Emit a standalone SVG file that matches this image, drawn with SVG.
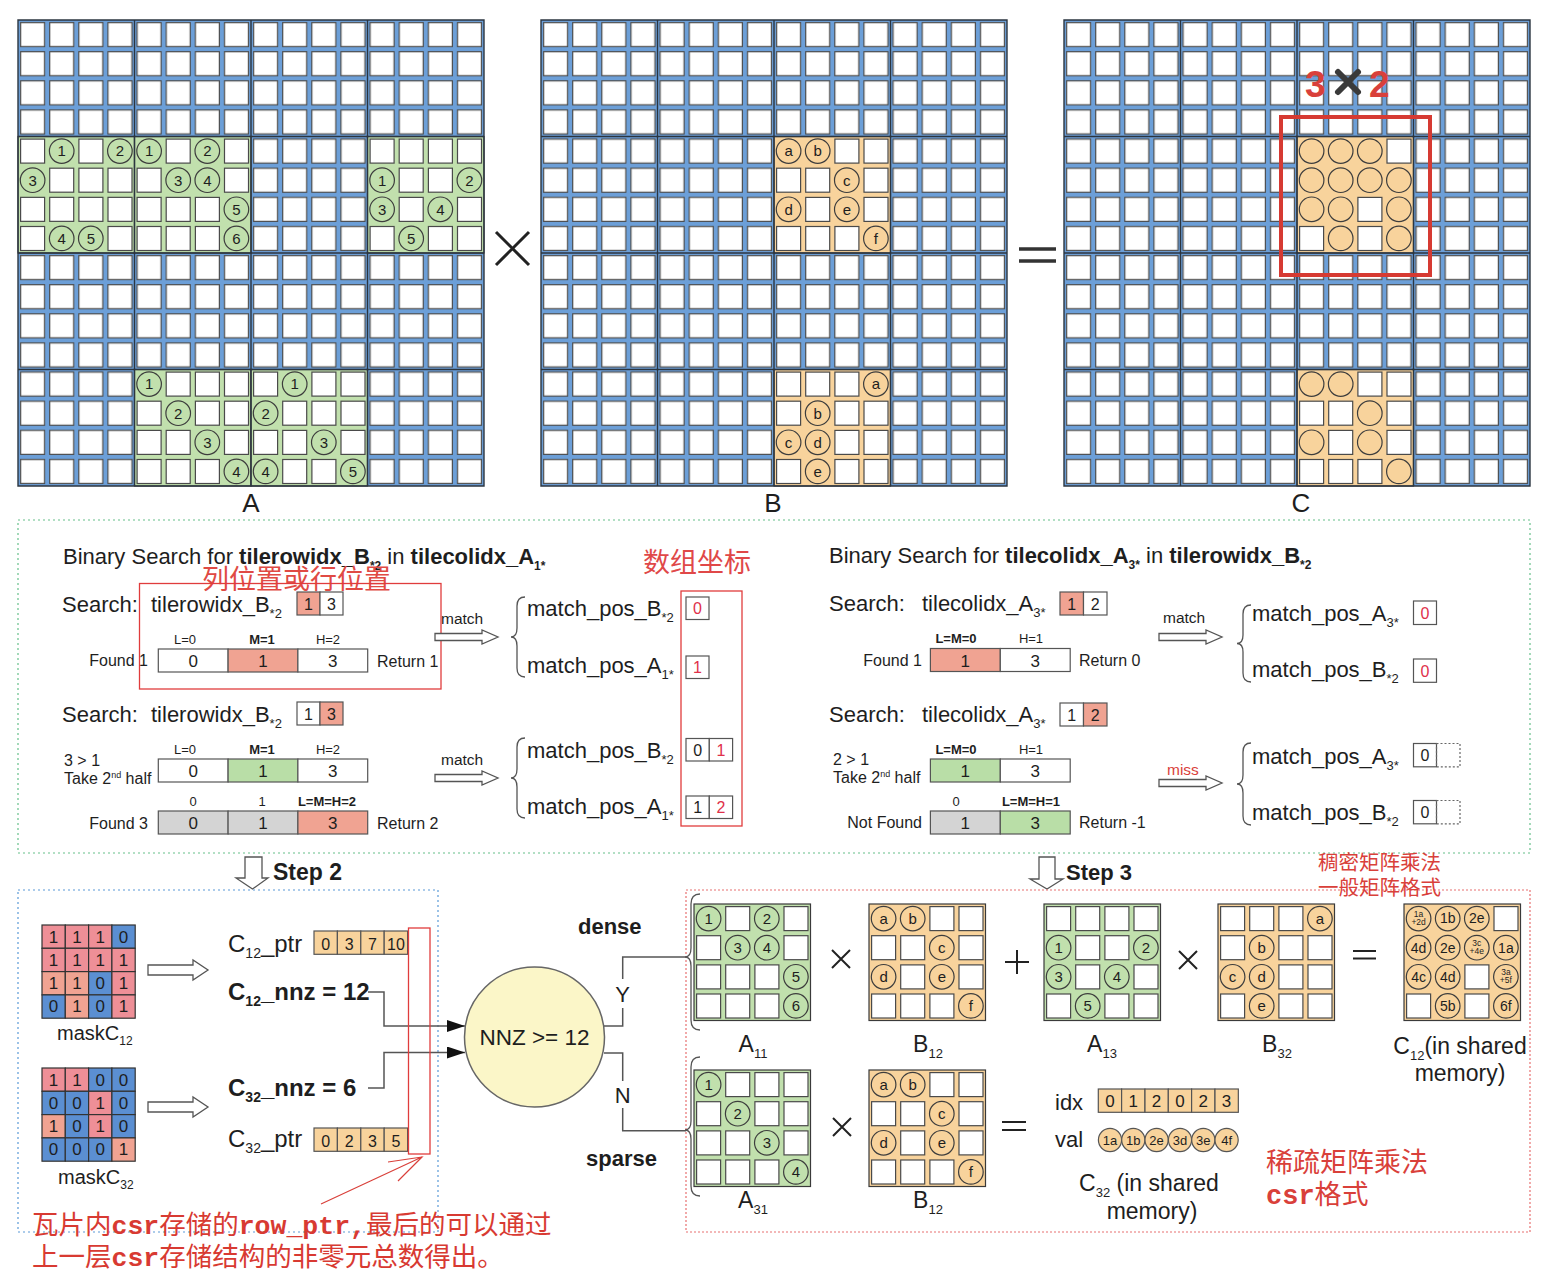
<svg xmlns="http://www.w3.org/2000/svg" xmlns:xlink="http://www.w3.org/1999/xlink" width="1548" height="1284" viewBox="0 0 1548 1284">
<style>
text{font-family:"Liberation Sans",Arial,"Noto Sans CJK SC",sans-serif;fill:#1e1e1e}
.sq{fill:#fff;stroke:#4a4a4a;stroke-width:1.2}
.ct{font-size:15px;text-anchor:middle}
.tl{fill:none;stroke:#2c3640;stroke-width:1.4}
.cell{stroke:#555;stroke-width:1.2}
.mk{stroke:#333;stroke-width:1.2}
.w{fill:#fff}.sal{fill:#f0a392}.grn{fill:#b9dea7}.gry{fill:#d4d4d4}.org{fill:#f8d39c}
.pk{fill:#ee8f97}.bl{fill:#5b8fd2}
.mid{text-anchor:middle}
.end{text-anchor:end}
.red{fill:#d9403a}
.rn{fill:#e0304a}
.cjk{font-family:"Noto Sans CJK SC",sans-serif}
.mono{font-family:"Liberation Mono","Noto Sans CJK SC",monospace;font-weight:bold}
.hol{fill:#fff;stroke:#555;stroke-width:1.3}
.br{fill:none;stroke:#555;stroke-width:1.3}
.ln{fill:none;stroke:#555;stroke-width:1.5}
.op{stroke:#222;stroke-width:2;fill:none}
.rb{fill:none;stroke:#e03c3c;stroke-width:1.3}
</style>
<defs>
<rect id="s" width="24" height="24" class="sq"/>
<circle id="c" r="12.3" stroke="#3d3d3d" stroke-width="1.2"/>
<g id="r4"><use href="#s" x="2.6" y="2.6"/><use href="#s" x="31.7" y="2.6"/><use href="#s" x="60.9" y="2.6"/><use href="#s" x="90" y="2.6"/></g>
<pattern id="pb" width="29.125" height="29.125" patternUnits="userSpaceOnUse"><rect width="29.125" height="29.125" fill="#6c9fd8"/><rect x="2.6" y="2.6" width="24" height="24" fill="#fff" stroke="#4d4d4d" stroke-width="1.2"/></pattern>
<marker id="ah" markerWidth="18" markerHeight="12" refX="18" refY="6" orient="auto" markerUnits="userSpaceOnUse"><path d="M0,0L18,6L0,12Z" fill="#111"/></marker>

<g id="tA10" fill="#c1e0ad">
<rect width="116.5" height="116.5" stroke="#3a3a3a" stroke-width="1.2"/>
<use href="#s" x="2.6" y="2.6"/><use href="#c" x="43.7" y="14.6"/><text class="ct" x="43.7" y="19.9">1</text><use href="#s" x="60.9" y="2.6"/><use href="#c" x="101.9" y="14.6"/><text class="ct" x="101.9" y="19.9">2</text>
<use href="#c" x="14.6" y="43.7"/><text class="ct" x="14.6" y="49">3</text><use href="#s" x="31.7" y="31.7"/><use href="#s" x="60.9" y="31.7"/><use href="#s" x="90" y="31.7"/>
<use href="#r4" y="58.25"/>
<use href="#s" x="2.6" y="90"/><use href="#c" x="43.7" y="101.9"/><text class="ct" x="43.7" y="107.2">4</text><use href="#c" x="72.8" y="101.9"/><text class="ct" x="72.8" y="107.2">5</text><use href="#s" x="90" y="90"/>
</g>
<g id="tA11" fill="#c1e0ad">
<rect width="116.5" height="116.5" stroke="#3a3a3a" stroke-width="1.2"/>
<use href="#c" x="14.6" y="14.6"/><text class="ct" x="14.6" y="19.9">1</text><use href="#s" x="31.7" y="2.6"/><use href="#c" x="72.8" y="14.6"/><text class="ct" x="72.8" y="19.9">2</text><use href="#s" x="90" y="2.6"/>
<use href="#s" x="2.6" y="31.7"/><use href="#c" x="43.7" y="43.7"/><text class="ct" x="43.7" y="49">3</text><use href="#c" x="72.8" y="43.7"/><text class="ct" x="72.8" y="49">4</text><use href="#s" x="90" y="31.7"/>
<use href="#s" x="2.6" y="60.9"/><use href="#s" x="31.7" y="60.9"/><use href="#s" x="60.9" y="60.9"/><use href="#c" x="101.9" y="72.8"/><text class="ct" x="101.9" y="78.1">5</text>
<use href="#s" x="2.6" y="90"/><use href="#s" x="31.7" y="90"/><use href="#s" x="60.9" y="90"/><use href="#c" x="101.9" y="101.9"/><text class="ct" x="101.9" y="107.2">6</text>
</g>
<g id="tA13" fill="#c1e0ad">
<rect width="116.5" height="116.5" stroke="#3a3a3a" stroke-width="1.2"/>
<use href="#r4"/>
<use href="#c" x="14.6" y="43.7"/><text class="ct" x="14.6" y="49">1</text><use href="#s" x="31.7" y="31.7"/><use href="#s" x="60.9" y="31.7"/><use href="#c" x="101.9" y="43.7"/><text class="ct" x="101.9" y="49">2</text>
<use href="#c" x="14.6" y="72.8"/><text class="ct" x="14.6" y="78.1">3</text><use href="#s" x="31.7" y="60.9"/><use href="#c" x="72.8" y="72.8"/><text class="ct" x="72.8" y="78.1">4</text><use href="#s" x="90" y="60.9"/>
<use href="#s" x="2.6" y="90"/><use href="#c" x="43.7" y="101.9"/><text class="ct" x="43.7" y="107.2">5</text><use href="#s" x="60.9" y="90"/><use href="#s" x="90" y="90"/>
</g>
<g id="tA31" fill="#c1e0ad">
<rect width="116.5" height="116.5" stroke="#3a3a3a" stroke-width="1.2"/>
<use href="#c" x="14.6" y="14.6"/><text class="ct" x="14.6" y="19.9">1</text><use href="#s" x="31.7" y="2.6"/><use href="#s" x="60.9" y="2.6"/><use href="#s" x="90" y="2.6"/>
<use href="#s" x="2.6" y="31.7"/><use href="#c" x="43.7" y="43.7"/><text class="ct" x="43.7" y="49">2</text><use href="#s" x="60.9" y="31.7"/><use href="#s" x="90" y="31.7"/>
<use href="#s" x="2.6" y="60.9"/><use href="#s" x="31.7" y="60.9"/><use href="#c" x="72.8" y="72.8"/><text class="ct" x="72.8" y="78.1">3</text><use href="#s" x="90" y="60.9"/>
<use href="#s" x="2.6" y="90"/><use href="#s" x="31.7" y="90"/><use href="#s" x="60.9" y="90"/><use href="#c" x="101.9" y="101.9"/><text class="ct" x="101.9" y="107.2">4</text>
</g>
<g id="tA32" fill="#c1e0ad">
<rect width="116.5" height="116.5" stroke="#3a3a3a" stroke-width="1.2"/>
<use href="#s" x="2.6" y="2.6"/><use href="#c" x="43.7" y="14.6"/><text class="ct" x="43.7" y="19.9">1</text><use href="#s" x="60.9" y="2.6"/><use href="#s" x="90" y="2.6"/>
<use href="#c" x="14.6" y="43.7"/><text class="ct" x="14.6" y="49">2</text><use href="#s" x="31.7" y="31.7"/><use href="#s" x="60.9" y="31.7"/><use href="#s" x="90" y="31.7"/>
<use href="#s" x="2.6" y="60.9"/><use href="#s" x="31.7" y="60.9"/><use href="#c" x="72.8" y="72.8"/><text class="ct" x="72.8" y="78.1">3</text><use href="#s" x="90" y="60.9"/>
<use href="#c" x="14.6" y="101.9"/><text class="ct" x="14.6" y="107.2">4</text><use href="#s" x="31.7" y="90"/><use href="#s" x="60.9" y="90"/><use href="#c" x="101.9" y="101.9"/><text class="ct" x="101.9" y="107.2">5</text>
</g>
<g id="tB12" fill="#f8d39c">
<rect width="116.5" height="116.5" stroke="#3a3a3a" stroke-width="1.2"/>
<use href="#c" x="14.6" y="14.6"/><text class="ct" x="14.6" y="19.9">a</text><use href="#c" x="43.7" y="14.6"/><text class="ct" x="43.7" y="19.9">b</text><use href="#s" x="60.9" y="2.6"/><use href="#s" x="90" y="2.6"/>
<use href="#s" x="2.6" y="31.7"/><use href="#s" x="31.7" y="31.7"/><use href="#c" x="72.8" y="43.7"/><text class="ct" x="72.8" y="49">c</text><use href="#s" x="90" y="31.7"/>
<use href="#c" x="14.6" y="72.8"/><text class="ct" x="14.6" y="78.1">d</text><use href="#s" x="31.7" y="60.9"/><use href="#c" x="72.8" y="72.8"/><text class="ct" x="72.8" y="78.1">e</text><use href="#s" x="90" y="60.9"/>
<use href="#s" x="2.6" y="90"/><use href="#s" x="31.7" y="90"/><use href="#s" x="60.9" y="90"/><use href="#c" x="101.9" y="101.9"/><text class="ct" x="101.9" y="107.2">f</text>
</g>
<g id="tB32" fill="#f8d39c">
<rect width="116.5" height="116.5" stroke="#3a3a3a" stroke-width="1.2"/>
<use href="#s" x="2.6" y="2.6"/><use href="#s" x="31.7" y="2.6"/><use href="#s" x="60.9" y="2.6"/><use href="#c" x="101.9" y="14.6"/><text class="ct" x="101.9" y="19.9">a</text>
<use href="#s" x="2.6" y="31.7"/><use href="#c" x="43.7" y="43.7"/><text class="ct" x="43.7" y="49">b</text><use href="#s" x="60.9" y="31.7"/><use href="#s" x="90" y="31.7"/>
<use href="#c" x="14.6" y="72.8"/><text class="ct" x="14.6" y="78.1">c</text><use href="#c" x="43.7" y="72.8"/><text class="ct" x="43.7" y="78.1">d</text><use href="#s" x="60.9" y="60.9"/><use href="#s" x="90" y="60.9"/>
<use href="#s" x="2.6" y="90"/><use href="#c" x="43.7" y="101.9"/><text class="ct" x="43.7" y="107.2">e</text><use href="#s" x="60.9" y="90"/><use href="#s" x="90" y="90"/>
</g>
<g id="tC12" fill="#f8d39c">
<rect width="116.5" height="116.5" stroke="#3a3a3a" stroke-width="1.2"/>
<use href="#c" x="14.6" y="14.6"/><use href="#c" x="43.7" y="14.6"/><use href="#c" x="72.8" y="14.6"/><use href="#s" x="90" y="2.6"/>
<use href="#c" x="14.6" y="43.7"/><use href="#c" x="43.7" y="43.7"/><use href="#c" x="72.8" y="43.7"/><use href="#c" x="101.9" y="43.7"/>
<use href="#c" x="14.6" y="72.8"/><use href="#c" x="43.7" y="72.8"/><use href="#s" x="60.9" y="60.9"/><use href="#c" x="101.9" y="72.8"/>
<use href="#s" x="2.6" y="90"/><use href="#c" x="43.7" y="101.9"/><use href="#s" x="60.9" y="90"/><use href="#c" x="101.9" y="101.9"/>
</g>
<g id="tC32" fill="#f8d39c">
<rect width="116.5" height="116.5" stroke="#3a3a3a" stroke-width="1.2"/>
<use href="#c" x="14.6" y="14.6"/><use href="#c" x="43.7" y="14.6"/><use href="#s" x="60.9" y="2.6"/><use href="#s" x="90" y="2.6"/>
<use href="#s" x="2.6" y="31.7"/><use href="#s" x="31.7" y="31.7"/><use href="#c" x="72.8" y="43.7"/><use href="#s" x="90" y="31.7"/>
<use href="#c" x="14.6" y="72.8"/><use href="#s" x="31.7" y="60.9"/><use href="#c" x="72.8" y="72.8"/><use href="#s" x="90" y="60.9"/>
<use href="#s" x="2.6" y="90"/><use href="#s" x="31.7" y="90"/><use href="#s" x="60.9" y="90"/><use href="#c" x="101.9" y="101.9"/>
</g>
<path id="tgrid" d="M0,0H466V466H0Z M116.5,0V466 M233,0V466 M349.5,0V466 M0,116.5H466 M0,233H466 M0,349.5H466"/>
</defs>

<rect width="1548" height="1284" fill="#fff"/>

<!-- Top matrices -->
<g id="matrix-A" transform="translate(18,20)">
<rect width="466" height="466" fill="url(#pb)"/>
<use href="#tA10" x="0" y="116.5"/>
<use href="#tA11" x="116.5" y="116.5"/>
<use href="#tA13" x="349.5" y="116.5"/>
<use href="#tA31" x="116.5" y="349.5"/>
<use href="#tA32" x="233" y="349.5"/>
<use href="#tgrid" class="tl"/>
</g>
<g id="matrix-B" transform="translate(541,20)">
<rect width="466" height="466" fill="url(#pb)"/>
<use href="#tB12" x="233" y="116.5"/>
<use href="#tB32" x="233" y="349.5"/>
<use href="#tgrid" class="tl"/>
</g>
<g id="matrix-C" transform="translate(1064,20)">
<rect width="466" height="466" fill="url(#pb)"/>
<use href="#tC12" x="233" y="116.5"/>
<use href="#tC32" x="233" y="349.5"/>
<use href="#tgrid" class="tl"/>
</g>
<g id="labels-top">
<text x="251" y="512" font-size="26" class="mid">A</text>
<text x="773" y="512" font-size="26" class="mid">B</text>
<text x="1301" y="512" font-size="26" class="mid">C</text>
<path d="M496,232L529,265M529,232L496,265" stroke="#222" stroke-width="3"/>
<path d="M1019,249H1056M1019,261H1056" stroke="#333" stroke-width="3.5"/>
</g>
<g id="highlight-3x2">
<rect x="1281" y="117" width="149" height="158" fill="none" stroke="#d63a32" stroke-width="4"/>
<text x="1305" y="97" font-size="37" font-weight="bold" class="red">3</text>
<path d="M1338,72L1358,92M1358,72L1338,92" stroke="#3a3a3a" stroke-width="6" stroke-linecap="round"/>
<text x="1369" y="97" font-size="37" font-weight="bold" class="red">2</text>
</g>

<!-- Middle section -->
<rect id="box-step1" x="18" y="520" width="1512" height="333" fill="none" stroke="#66c08a" stroke-width="1.2" stroke-dasharray="2 3"/>

<g id="search-left">
<text x="63" y="564" font-size="22">Binary Search for <tspan font-weight="bold">tilerowidx_B<tspan font-size="12" dy="6">*2</tspan></tspan><tspan dy="-6"> in </tspan><tspan font-weight="bold">tilecolidx_A<tspan font-size="12" dy="6">1*</tspan></tspan></text>
<text x="202" y="589" font-size="27" class="cjk" fill="#e04a44" style="fill:#e04a44">列位置或行位置</text>
<rect class="rb" x="139.5" y="583.5" width="301.5" height="105.5"/>
<text x="62" y="612" font-size="22">Search:</text>
<text x="151" y="612" font-size="22">tilerowidx_B<tspan font-size="13" dy="6">*2</tspan></text>
<rect class="cell sal" x="297" y="592" width="23" height="23"/><rect class="cell w" x="320" y="592" width="23" height="23"/>
<text class="mid" font-size="16" x="308.5" y="609.5">1</text><text class="mid" font-size="16" x="331.5" y="609.5">3</text>
<text class="mid" font-size="13" x="185" y="644">L=0</text><text class="mid" font-size="13" x="262" y="644" font-weight="bold">M=1</text><text class="mid" font-size="13" x="328" y="644">H=2</text>
<rect class="cell w" x="158.3" y="649" width="69.8" height="23"/><rect class="cell sal" x="228.1" y="649" width="69.8" height="23"/><rect class="cell w" x="297.9" y="649" width="69.8" height="23"/>
<text class="mid" font-size="17" x="193.2" y="667">0</text><text class="mid" font-size="17" x="263" y="667">1</text><text class="mid" font-size="17" x="332.8" y="667">3</text>
<text x="148" y="666" font-size="16" class="end">Found 1</text>
<text x="377" y="667" font-size="16">Return 1</text>

<text x="62" y="722" font-size="22">Search:</text>
<text x="151" y="722" font-size="22">tilerowidx_B<tspan font-size="13" dy="6">*2</tspan></text>
<rect class="cell w" x="297" y="702" width="23" height="23"/><rect class="cell sal" x="320" y="702" width="23" height="23"/>
<text class="mid" font-size="16" x="308.5" y="719.5">1</text><text class="mid" font-size="16" x="331.5" y="719.5">3</text>
<text x="64" y="766" font-size="16">3 &gt; 1</text>
<text x="64" y="784" font-size="16">Take 2<tspan font-size="9" dy="-6">nd</tspan><tspan dy="6"> half</tspan></text>
<text class="mid" font-size="13" x="185" y="754">L=0</text><text class="mid" font-size="13" x="262" y="754" font-weight="bold">M=1</text><text class="mid" font-size="13" x="328" y="754">H=2</text>
<rect class="cell w" x="158.3" y="759" width="69.8" height="23"/><rect class="cell grn" x="228.1" y="759" width="69.8" height="23"/><rect class="cell w" x="297.9" y="759" width="69.8" height="23"/>
<text class="mid" font-size="17" x="193.2" y="777">0</text><text class="mid" font-size="17" x="263" y="777">1</text><text class="mid" font-size="17" x="332.8" y="777">3</text>
<text class="mid" font-size="13" x="193" y="806">0</text><text class="mid" font-size="13" x="262" y="806">1</text><text class="mid" font-size="13" x="327" y="806" font-weight="bold">L=M=H=2</text>
<rect class="cell gry" x="158.3" y="811" width="69.8" height="23"/><rect class="cell gry" x="228.1" y="811" width="69.8" height="23"/><rect class="cell sal" x="297.9" y="811" width="69.8" height="23"/>
<text class="mid" font-size="17" x="193.2" y="829">0</text><text class="mid" font-size="17" x="263" y="829">1</text><text class="mid" font-size="17" x="332.8" y="829">3</text>
<text x="148" y="829" font-size="16" class="end">Found 3</text>
<text x="377" y="829" font-size="16">Return 2</text>
</g>

<g id="match-left">
<text x="441" y="624" font-size="15.5">match</text>
<path class="hol" d="M435,633.5H482V630L498,637L482,644V640.5H435Z"/>
<path class="br" d="M525,597Q517,597 517,606V628Q517,637 511,637Q517,637 517,646V668Q517,677 525,677"/>
<text x="527" y="616" font-size="22">match_pos_B<tspan font-size="13" dy="6">*2</tspan></text>
<rect class="cell w" x="686" y="597" width="23" height="22.5"/><text class="mid rn" font-size="16" x="697.5" y="614">0</text>
<text x="527" y="673" font-size="22">match_pos_A<tspan font-size="13" dy="6">1*</tspan></text>
<rect class="cell w" x="686" y="656" width="23" height="22.5"/><text class="mid rn" font-size="16" x="697.5" y="673">1</text>

<text x="441" y="765" font-size="15.5">match</text>
<path class="hol" d="M435,774.5H482V771L498,778L482,785V781.5H435Z"/>
<path class="br" d="M525,738Q517,738 517,747V769Q517,778 511,778Q517,778 517,787V809Q517,818 525,818"/>
<text x="527" y="758" font-size="22">match_pos_B<tspan font-size="13" dy="6">*2</tspan></text>
<rect class="cell w" x="686" y="738.5" width="23.3" height="22.5"/><rect class="cell w" x="709.3" y="738.5" width="23.3" height="22.5"/>
<text class="mid" font-size="16" x="697.7" y="755.5">0</text><text class="mid rn" font-size="16" x="721" y="755.5">1</text>
<text x="527" y="814" font-size="22">match_pos_A<tspan font-size="13" dy="6">1*</tspan></text>
<rect class="cell w" x="686" y="796" width="23.3" height="22.5"/><rect class="cell w" x="709.3" y="796" width="23.3" height="22.5"/>
<text class="mid" font-size="16" x="697.7" y="813">1</text><text class="mid rn" font-size="16" x="721" y="813">2</text>
<rect class="rb" x="681" y="591" width="61" height="235"/>
<text x="643" y="572" font-size="27" class="cjk" style="fill:#e04848">数组坐标</text>
</g>

<g id="search-right">
<text x="829" y="563" font-size="22">Binary Search for <tspan font-weight="bold">tilecolidx_A<tspan font-size="12" dy="6">3*</tspan></tspan><tspan dy="-6"> in </tspan><tspan font-weight="bold">tilerowidx_B<tspan font-size="12" dy="6">*2</tspan></tspan></text>
<text x="829" y="611" font-size="22">Search:</text>
<text x="922" y="611" font-size="22">tilecolidx_A<tspan font-size="13" dy="6">3*</tspan></text>
<rect class="cell sal" x="1060" y="592" width="23.5" height="23"/><rect class="cell w" x="1083.5" y="592" width="23.5" height="23"/>
<text class="mid" font-size="16" x="1071.7" y="609.5">1</text><text class="mid" font-size="16" x="1095.2" y="609.5">2</text>
<text class="mid" font-size="13" x="956" y="643" font-weight="bold">L=M=0</text><text class="mid" font-size="13" x="1031" y="643">H=1</text>
<rect class="cell sal" x="930.4" y="648.5" width="69.9" height="23"/><rect class="cell w" x="1000.3" y="648.5" width="69.9" height="23"/>
<text class="mid" font-size="17" x="965.3" y="666.5">1</text><text class="mid" font-size="17" x="1035.2" y="666.5">3</text>
<text x="922" y="666" font-size="16" class="end">Found 1</text>
<text x="1079" y="666" font-size="16">Return 0</text>

<text x="829" y="722" font-size="22">Search:</text>
<text x="922" y="722" font-size="22">tilecolidx_A<tspan font-size="13" dy="6">3*</tspan></text>
<rect class="cell w" x="1060" y="703" width="23.5" height="23"/><rect class="cell sal" x="1083.5" y="703" width="23.5" height="23"/>
<text class="mid" font-size="16" x="1071.7" y="720.5">1</text><text class="mid" font-size="16" x="1095.2" y="720.5">2</text>
<text x="833" y="765" font-size="16">2 &gt; 1</text>
<text x="833" y="783" font-size="16">Take 2<tspan font-size="9" dy="-6">nd</tspan><tspan dy="6"> half</tspan></text>
<text class="mid" font-size="13" x="956" y="754" font-weight="bold">L=M=0</text><text class="mid" font-size="13" x="1031" y="754">H=1</text>
<rect class="cell grn" x="930.4" y="759" width="69.9" height="23"/><rect class="cell w" x="1000.3" y="759" width="69.9" height="23"/>
<text class="mid" font-size="17" x="965.3" y="777">1</text><text class="mid" font-size="17" x="1035.2" y="777">3</text>
<text class="mid" font-size="13" x="956" y="806">0</text><text class="mid" font-size="13" x="1031" y="806" font-weight="bold">L=M=H=1</text>
<rect class="cell gry" x="930.4" y="811" width="69.9" height="23"/><rect class="cell grn" x="1000.3" y="811" width="69.9" height="23"/>
<text class="mid" font-size="17" x="965.3" y="829">1</text><text class="mid" font-size="17" x="1035.2" y="829">3</text>
<text x="922" y="828" font-size="16" class="end">Not Found</text>
<text x="1079" y="828" font-size="16">Return -1</text>
</g>

<g id="match-right">
<text x="1163" y="623" font-size="15.5">match</text>
<path class="hol" d="M1159,633.5H1206V630L1222,637L1206,644V640.5H1159Z"/>
<path class="br" d="M1251,605Q1243,605 1243,614V635Q1243,643.5 1237,643.5Q1243,643.5 1243,652V673Q1243,682 1251,682"/>
<text x="1252" y="621" font-size="22">match_pos_A<tspan font-size="13" dy="6">3*</tspan></text>
<rect class="cell w" x="1413.5" y="601" width="23" height="23.5"/><text class="mid rn" font-size="16" x="1425" y="618.5">0</text>
<text x="1252" y="677" font-size="22">match_pos_B<tspan font-size="13" dy="6">*2</tspan></text>
<rect class="cell w" x="1413.5" y="659" width="23" height="23.3"/><text class="mid rn" font-size="16" x="1425" y="676.5">0</text>

<text x="1167" y="775" font-size="15.5" class="red">miss</text>
<path class="hol" d="M1159,779.5H1206V776L1222,783L1206,790V786.5H1159Z"/>
<path class="br" d="M1251,743Q1243,743 1243,752V775Q1243,784 1237,784Q1243,784 1243,793V816Q1243,825 1251,825"/>
<text x="1252" y="764" font-size="22">match_pos_A<tspan font-size="13" dy="6">3*</tspan></text>
<rect class="cell w" x="1413.5" y="743.5" width="23" height="23.3"/><rect x="1436.5" y="743.5" width="23.5" height="23.3" fill="none" stroke="#666" stroke-width="1.2" stroke-dasharray="2 2"/>
<text class="mid" font-size="16" x="1425" y="760.5">0</text>
<text x="1252" y="820" font-size="22">match_pos_B<tspan font-size="13" dy="6">*2</tspan></text>
<rect class="cell w" x="1413.5" y="800.5" width="23" height="23.3"/><rect x="1436.5" y="800.5" width="23.5" height="23.3" fill="none" stroke="#666" stroke-width="1.2" stroke-dasharray="2 2"/>
<text class="mid" font-size="16" x="1425" y="817.5">0</text>
</g>

<!-- Step 2 -->
<g id="step2-label">
<path class="hol" d="M245,857H262V878H268L252.5,889L236,878H245Z"/>
<text x="273" y="880" font-size="23" font-weight="bold">Step 2</text>
</g>
<rect id="box-step2" x="18" y="890" width="420" height="342" fill="none" stroke="#5a9ad8" stroke-width="1.2" stroke-dasharray="2 3"/>

<g id="maskC12">
<rect class="mk pk" x="42" y="925" width="23.3" height="23.3"/><rect class="mk pk" x="65.3" y="925" width="23.3" height="23.3"/><rect class="mk pk" x="88.6" y="925" width="23.3" height="23.3"/><rect class="mk bl" x="111.9" y="925" width="23.3" height="23.3"/>
<rect class="mk pk" x="42" y="948.3" width="23.3" height="23.3"/><rect class="mk pk" x="65.3" y="948.3" width="23.3" height="23.3"/><rect class="mk pk" x="88.6" y="948.3" width="23.3" height="23.3"/><rect class="mk pk" x="111.9" y="948.3" width="23.3" height="23.3"/>
<rect class="mk sal" x="42" y="971.6" width="23.3" height="23.3"/><rect class="mk sal" x="65.3" y="971.6" width="23.3" height="23.3"/><rect class="mk bl" x="88.6" y="971.6" width="23.3" height="23.3"/><rect class="mk pk" x="111.9" y="971.6" width="23.3" height="23.3"/>
<rect class="mk bl" x="42" y="994.9" width="23.3" height="23.3"/><rect class="mk sal" x="65.3" y="994.9" width="23.3" height="23.3"/><rect class="mk bl" x="88.6" y="994.9" width="23.3" height="23.3"/><rect class="mk pk" x="111.9" y="994.9" width="23.3" height="23.3"/>
<g class="mid" font-size="17">
<text x="53.6" y="942.5">1</text><text x="77" y="942.5">1</text><text x="100.3" y="942.5">1</text><text x="123.6" y="942.5">0</text>
<text x="53.6" y="965.8">1</text><text x="77" y="965.8">1</text><text x="100.3" y="965.8">1</text><text x="123.6" y="965.8">1</text>
<text x="53.6" y="989.1">1</text><text x="77" y="989.1">1</text><text x="100.3" y="989.1">0</text><text x="123.6" y="989.1">1</text>
<text x="53.6" y="1012.4">0</text><text x="77" y="1012.4">1</text><text x="100.3" y="1012.4">0</text><text x="123.6" y="1012.4">1</text>
</g>
<text x="57" y="1040" font-size="20">maskC<tspan font-size="12" dy="5">12</tspan></text>
</g>
<g id="maskC32">
<rect class="mk pk" x="42" y="1068" width="23.3" height="23.3"/><rect class="mk pk" x="65.3" y="1068" width="23.3" height="23.3"/><rect class="mk bl" x="88.6" y="1068" width="23.3" height="23.3"/><rect class="mk bl" x="111.9" y="1068" width="23.3" height="23.3"/>
<rect class="mk bl" x="42" y="1091.3" width="23.3" height="23.3"/><rect class="mk bl" x="65.3" y="1091.3" width="23.3" height="23.3"/><rect class="mk pk" x="88.6" y="1091.3" width="23.3" height="23.3"/><rect class="mk bl" x="111.9" y="1091.3" width="23.3" height="23.3"/>
<rect class="mk sal" x="42" y="1114.6" width="23.3" height="23.3"/><rect class="mk bl" x="65.3" y="1114.6" width="23.3" height="23.3"/><rect class="mk pk" x="88.6" y="1114.6" width="23.3" height="23.3"/><rect class="mk bl" x="111.9" y="1114.6" width="23.3" height="23.3"/>
<rect class="mk bl" x="42" y="1137.9" width="23.3" height="23.3"/><rect class="mk bl" x="65.3" y="1137.9" width="23.3" height="23.3"/><rect class="mk bl" x="88.6" y="1137.9" width="23.3" height="23.3"/><rect class="mk sal" x="111.9" y="1137.9" width="23.3" height="23.3"/>
<g class="mid" font-size="17">
<text x="53.6" y="1085.5">1</text><text x="77" y="1085.5">1</text><text x="100.3" y="1085.5">0</text><text x="123.6" y="1085.5">0</text>
<text x="53.6" y="1108.8">0</text><text x="77" y="1108.8">0</text><text x="100.3" y="1108.8">1</text><text x="123.6" y="1108.8">0</text>
<text x="53.6" y="1132.1">1</text><text x="77" y="1132.1">0</text><text x="100.3" y="1132.1">1</text><text x="123.6" y="1132.1">0</text>
<text x="53.6" y="1155.4">0</text><text x="77" y="1155.4">0</text><text x="100.3" y="1155.4">0</text><text x="123.6" y="1155.4">1</text>
</g>
<text x="58" y="1184" font-size="20">maskC<tspan font-size="12" dy="5">32</tspan></text>
</g>

<g id="mask-arrows">
<path class="hol" d="M148,965H193V960L208,970L193,980V975H148Z"/>
<path class="hol" d="M148,1102H193V1097L208,1107L193,1117V1112H148Z"/>
</g>

<g id="C12-ptr">
<text x="228" y="952" font-size="24">C<tspan font-size="14" dy="6">12</tspan><tspan dy="-6">_ptr</tspan></text>
<rect class="cell org" x="314" y="931" width="23.4" height="23.3"/><rect class="cell org" x="337.4" y="931" width="23.4" height="23.3"/><rect class="cell org" x="360.8" y="931" width="23.4" height="23.3"/><rect class="cell org" x="384.2" y="931" width="23.4" height="23.3"/>
<text class="mid" font-size="16" x="325.7" y="949.5">0</text><text class="mid" font-size="16" x="349.1" y="949.5">3</text><text class="mid" font-size="16" x="372.5" y="949.5">7</text><text class="mid" font-size="16" x="395.9" y="949.5">10</text>
</g>
<g id="C12-nnz"><text x="228" y="1000" font-size="24" font-weight="bold">C<tspan font-size="14" dy="6">12</tspan><tspan dy="-6">_nnz = 12</tspan></text></g>
<g id="C32-nnz"><text x="228" y="1096" font-size="24" font-weight="bold">C<tspan font-size="14" dy="6">32</tspan><tspan dy="-6">_nnz = 6</tspan></text></g>
<g id="C32-ptr">
<text x="228" y="1147" font-size="24">C<tspan font-size="14" dy="6">32</tspan><tspan dy="-6">_ptr</tspan></text>
<rect class="cell org" x="314" y="1128" width="23.4" height="23.3"/><rect class="cell org" x="337.4" y="1128" width="23.4" height="23.3"/><rect class="cell org" x="360.8" y="1128" width="23.4" height="23.3"/><rect class="cell org" x="384.2" y="1128" width="23.4" height="23.3"/>
<text class="mid" font-size="16" x="325.7" y="1146.5">0</text><text class="mid" font-size="16" x="349.1" y="1146.5">2</text><text class="mid" font-size="16" x="372.5" y="1146.5">3</text><text class="mid" font-size="16" x="395.9" y="1146.5">5</text>
</g>

<g id="connectors">
<path class="ln" d="M368,992H384V1026H465" marker-end="url(#ah)"/>
<path class="ln" d="M368,1088H384V1052.5H465" marker-end="url(#ah)"/>
<path class="ln" d="M604,1026H622.7V1008M622.7,979V957H686"/>
<path class="ln" d="M604,1053H622.7V1081M622.7,1108V1130.7H686"/>
<path fill="none" stroke="#d9403a" stroke-width="1.2" d="M321,1204L422,1157M388,1162L422,1157L398,1181"/>
</g>
<rect id="rowptr-box" class="rb" x="408.5" y="928" width="21.5" height="226"/>

<g id="nnz-decision">
<circle cx="534.5" cy="1037" r="70" fill="#fbf6c8" stroke="#666" stroke-width="1.5"/>
<text x="534.5" y="1045" font-size="22.5" class="mid">NNZ &gt;= 12</text>
<text x="622.7" y="1002" font-size="22" class="mid">Y</text>
<text x="622.7" y="1103" font-size="22" class="mid">N</text>
<text x="578" y="934" font-size="22" font-weight="bold">dense</text>
<text x="586" y="1166" font-size="22" font-weight="bold">sparse</text>
</g>

<g id="note-rowptr">
<text x="32" y="1234" font-size="26.5" class="cjk" style="fill:#d83a32">瓦片内<tspan class="mono">csr</tspan>存储的<tspan class="mono">row_ptr,</tspan>最后的可以通过</text>
<text x="32" y="1266" font-size="26.5" class="cjk" style="fill:#d83a32">上一层<tspan class="mono">csr</tspan>存储结构的非零元总数得出。</text>
</g>

<!-- Step 3 -->
<g id="step3-label">
<path class="hol" d="M1039,857H1055V879H1063L1047,889L1030,879H1039Z"/>
<text x="1066" y="880" font-size="22" font-weight="bold">Step 3</text>
</g>
<rect id="box-step3" x="686" y="890" width="844" height="342" fill="none" stroke="#e87070" stroke-width="1.2" stroke-dasharray="2 2"/>
<g id="note-dense">
<text x="1318" y="870" font-size="20.5" class="cjk" style="fill:#d9403a">稠密矩阵乘法</text>
<text x="1318" y="895" font-size="20.5" class="cjk" style="fill:#d9403a">一般矩阵格式</text>
</g>

<g id="dense-branch">
<path class="br" d="M700,894Q691,894 691,904V948Q691,957 685,957Q691,957 691,966V1020Q691,1030 700,1030"/>
<use href="#tA11" x="694" y="904"/>
<use href="#tB12" x="869" y="904"/>
<use href="#tA13" x="1044" y="904"/>
<use href="#tB32" x="1218" y="904"/>
<use href="#tC12" x="1404" y="904"/>
<path d="M832,950L850,968M850,950L832,968" class="op"/>
<path d="M1005,962H1029M1017,950V974" class="op"/>
<path d="M1179,951L1197,969M1197,951L1179,969" class="op"/>
<path d="M1353,951H1376M1353,958.5H1376" class="op"/>
<g font-size="14" class="mid" transform="translate(1404,904)">
<text x="14.6" y="12.5" font-size="8.5">1a</text><text x="14.6" y="21" font-size="8.5">+2d</text>
<text x="43.7" y="19.4">1b</text><text x="72.8" y="19.4">2e</text>
<text x="14.6" y="48.5">4d</text><text x="43.7" y="48.5">2e</text>
<text x="72.8" y="41.6" font-size="8.5">3c</text><text x="72.8" y="50.1" font-size="8.5">+4e</text>
<text x="101.9" y="48.5">1a</text>
<text x="14.6" y="77.6">4c</text><text x="43.7" y="77.6">4d</text>
<text x="101.9" y="70.7" font-size="8.5">3a</text><text x="101.9" y="79.2" font-size="8.5">+5f</text>
<text x="43.7" y="106.7">5b</text><text x="101.9" y="106.7">6f</text>
</g>
<g font-size="23" class="mid">
<text x="753" y="1052">A<tspan font-size="13" dy="6">11</tspan></text>
<text x="928" y="1052">B<tspan font-size="13" dy="6">12</tspan></text>
<text x="1102" y="1052">A<tspan font-size="13" dy="6">13</tspan></text>
<text x="1277" y="1052">B<tspan font-size="13" dy="6">32</tspan></text>
<text x="1460" y="1054">C<tspan font-size="13" dy="6">12</tspan><tspan dy="-6">(in shared</tspan></text>
<text x="1460" y="1081">memory)</text>
</g>
</g>

<g id="sparse-branch">
<path class="br" d="M700,1057Q691,1057 691,1067V1121Q691,1130 685,1130Q691,1130 691,1139V1186Q691,1196 700,1196"/>
<use href="#tA31" x="694" y="1070"/>
<use href="#tB12" x="869" y="1070"/>
<path d="M833,1118L851,1136M851,1118L833,1136" class="op"/>
<path d="M1002,1122H1026M1002,1130H1026" class="op"/>
<text x="1055" y="1110" font-size="22">idx</text>
<text x="1055" y="1147" font-size="22">val</text>
<rect class="cell org" x="1098.3" y="1089" width="23.33" height="23.3"/><rect class="cell org" x="1121.6" y="1089" width="23.33" height="23.3"/><rect class="cell org" x="1145" y="1089" width="23.33" height="23.3"/><rect class="cell org" x="1168.3" y="1089" width="23.33" height="23.3"/><rect class="cell org" x="1191.6" y="1089" width="23.33" height="23.3"/><rect class="cell org" x="1215" y="1089" width="23.33" height="23.3"/>
<g class="mid" font-size="17">
<text x="1110" y="1107">0</text><text x="1133.3" y="1107">1</text><text x="1156.6" y="1107">2</text><text x="1180" y="1107">0</text><text x="1203.3" y="1107">2</text><text x="1226.6" y="1107">3</text>
</g>
<g fill="#f8d39c" stroke="#555" stroke-width="1.2">
<circle cx="1110" cy="1140" r="11.6"/><circle cx="1133.3" cy="1140" r="11.6"/><circle cx="1156.6" cy="1140" r="11.6"/><circle cx="1180" cy="1140" r="11.6"/><circle cx="1203.3" cy="1140" r="11.6"/><circle cx="1226.6" cy="1140" r="11.6"/>
</g>
<g class="mid" font-size="13">
<text x="1110" y="1144.5">1a</text><text x="1133.3" y="1144.5">1b</text><text x="1156.6" y="1144.5">2e</text><text x="1180" y="1144.5">3d</text><text x="1203.3" y="1144.5">3e</text><text x="1226.6" y="1144.5">4f</text>
</g>
<g font-size="23" class="mid">
<text x="753" y="1208">A<tspan font-size="13" dy="6">31</tspan></text>
<text x="928" y="1208">B<tspan font-size="13" dy="6">12</tspan></text>
<text x="1149" y="1191">C<tspan font-size="13" dy="6">32</tspan><tspan dy="-6"> (in shared</tspan></text>
<text x="1152" y="1219">memory)</text>
</g>
</g>
<g id="note-sparse">
<text x="1266" y="1172" font-size="27" class="cjk" style="fill:#d9403a">稀疏矩阵乘法</text>
<text x="1266" y="1204" font-size="27" class="cjk" style="fill:#d9403a"><tspan class="mono">csr</tspan>格式</text>
</g>
</svg>
